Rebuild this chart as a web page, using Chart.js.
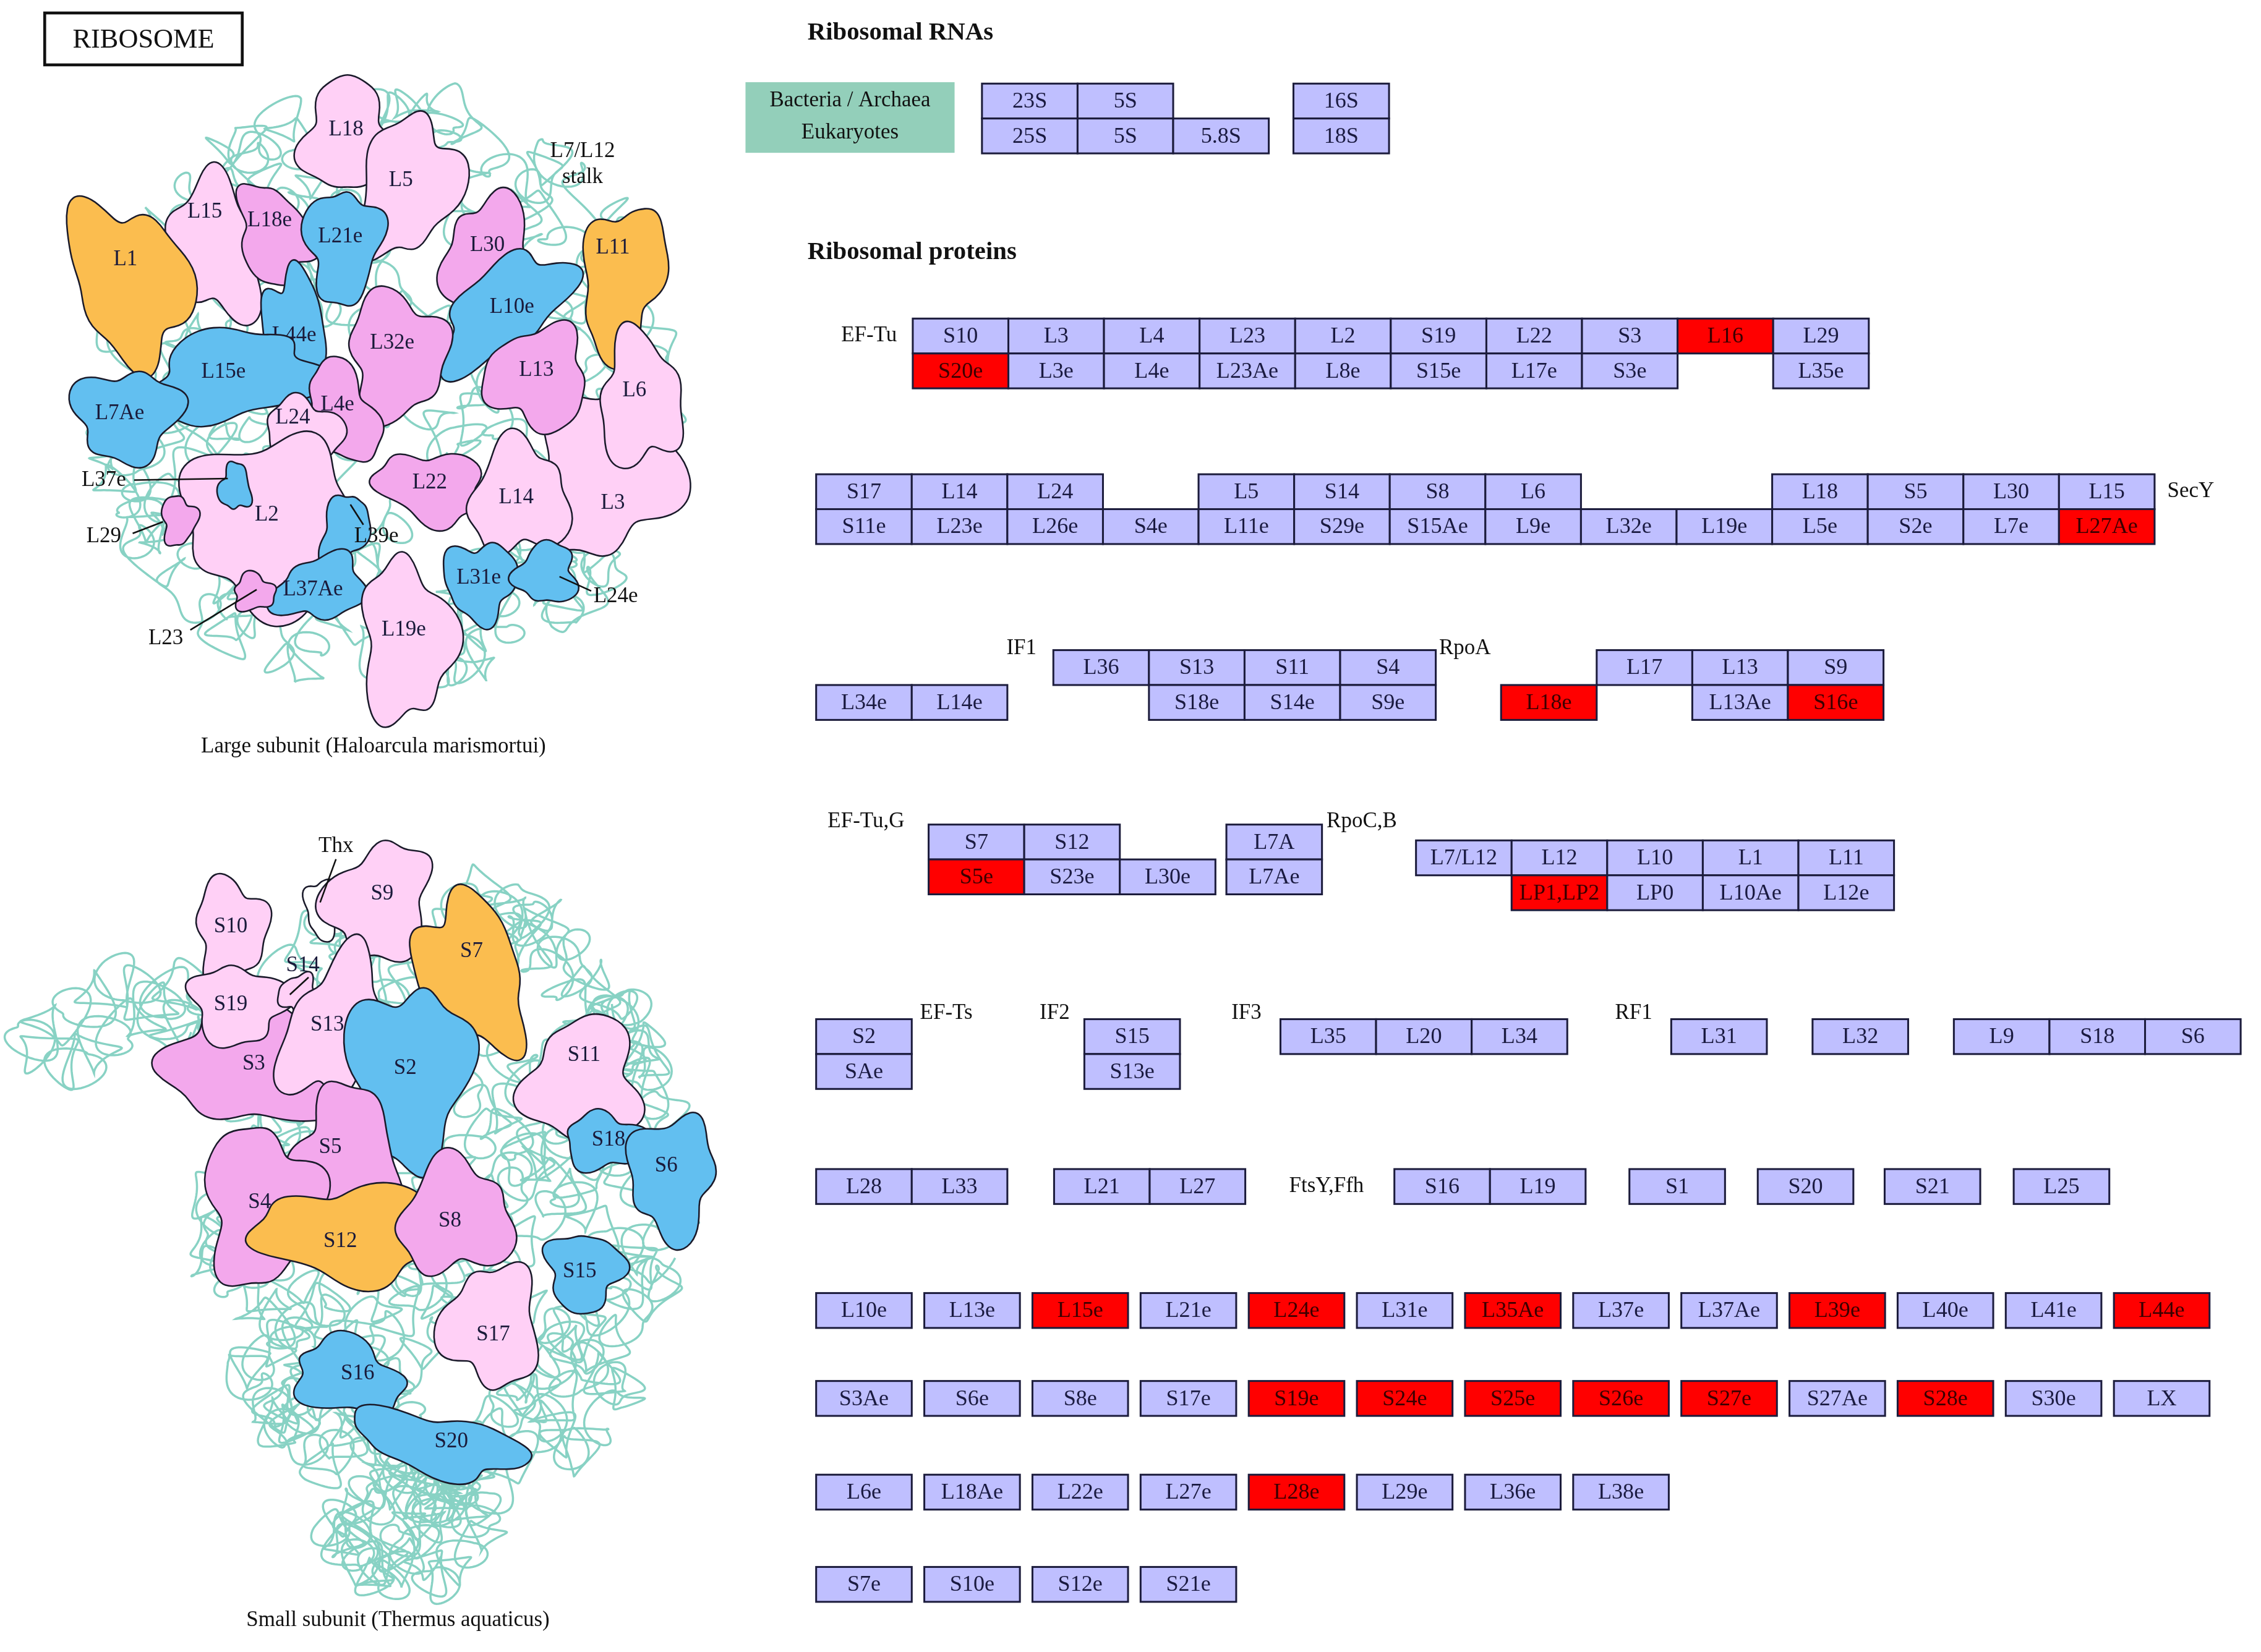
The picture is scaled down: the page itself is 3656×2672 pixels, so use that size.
<!DOCTYPE html>
<html><head><meta charset="utf-8">
<script src="https://cdn.jsdelivr.net/npm/chart.js@4.4.1/dist/chart.umd.min.js"></script>
<style>html,body{margin:0;padding:0;background:#fff;}#wrap{width:3656px;height:2672px;position:relative;}</style>
</head><body><div id="wrap"><canvas id="c"></canvas></div>
<script>
// ---------------- DATA ----------------
const rnaProkA = ['23S','5S'];
const rnaEukA  = ['25S','5S','5.8S'];
const rnaProkB = ['16S'];
const rnaEukB  = ['18S'];
const efTuTop  = ['S10','L3','L4','L23','L2','S19','L22','S3','L16','L29'];
const efTuBot  = ['S20e','L3e','L4e','L23Ae','L8e','S15e','L17e','S3e','','L35e'];
const secYTop  = ['S17','L14','L24','','L5','S14','S8','L6','','','L18','S5','L30','L15'];
const secYBot  = ['S11e','L23e','L26e','S4e','L11e','S29e','S15Ae','L9e','L32e','L19e','L5e','S2e','L7e','L27Ae'];
const if1LeftBot = ['L34e','L14e'];
const if1Top   = ['L36','S13','S11','S4'];
const if1Bot   = ['','S18e','S14e','S9e'];
const rpoATop  = ['','L17','L13','S9'];
const rpoABot  = ['L18e','','L13Ae','S16e'];
const efGTop   = ['S7','S12'];
const efGBot   = ['S5e','S23e','L30e'];
const l7aTop   = ['L7A'];
const l7aBot   = ['L7Ae'];
const rpoCTop  = ['L7/L12','L12','L10','L1','L11'];
const rpoCBot  = ['','LP1,LP2','LP0','L10Ae','L12e'];
const efTsTop  = ['S2'];  const efTsBot = ['SAe'];
const if2Top   = ['S15']; const if2Bot  = ['S13e'];
const if3Row   = ['L35','L20','L34'];
const rf1Row   = ['L31'];
const l32Row   = ['L32'];
const l9Row    = ['L9','S18','S6'];
const l28Row   = ['L28','L33'];
const l21Row   = ['L21','L27'];
const ftsRow   = ['S16','L19'];
const s1Row = ['S1']; const s20Row = ['S20']; const s21Row = ['S21']; const l25Row = ['L25'];
const eukRow1  = ['L10e','L13e','L15e','L21e','L24e','L31e','L35Ae','L37e','L37Ae','L39e','L40e','L41e','L44e'];
const eukRow2  = ['S3Ae','S6e','S8e','S17e','S19e','S24e','S25e','S26e','S27e','S27Ae','S28e','S30e','LX'];
const eukRow3  = ['L6e','L18Ae','L22e','L27e','L28e','L29e','L36e','L38e'];
const eukRow4  = ['S7e','S10e','S12e','S21e'];
const highlighted = ['L16','S20e','L27Ae','L18e','S16e','S5e','LP1,LP2','L15e','L24e','L35Ae','L39e','L44e',
  'S19e','S24e','S25e','S26e','S27e','S28e','L28e'];
const factorNames = ['EF-Tu','SecY','IF1','RpoA','EF-Tu,G','RpoC,B','EF-Ts','IF2','IF3','RF1','FtsY,Ffh'];

// illustration: protein names and colour classes (labels drawn outside for some)
const largeNames  = ['L18','L5','L15','L18e','L21e','L30','L1','L11','L10e','L32e','L44e','L15e','L3','L13','L6','L7Ae','L4e','L24','L2','L37e','L29','L22','L14','L39e','L37Ae','L23','L31e','L24e','L19e'];
const largeClass  = ['lp','lp','lp','mp','bl','mp','or','or','bl','mp','bl','bl','lp','mp','lp','bl','mp','lp','lp','bl','mp','mp','lp','bl','bl','mp','bl','bl','lp'];
const outsideLabels = ['L37e','L29','L23','L24e','L39e','Thx'];
const smallNames  = ['Thx','S9','S10','S7','S3','S19','S14','S13','S2','S11','S18','S6','S5','S4','S12','S8','S15','S17','S16','S20'];
const smallClass  = ['wh','lp','lp','or','mp','lp','lp','lp','bl','lp','bl','bl','mp','mp','or','mp','bl','lp','bl','bl'];

// ---------------- LAYOUT (display units, 1568 x 1146) ----------------
const W = 66.3, H = 24.2;
const groupLayout = [
  {top:rnaProkA, bot:rnaEukA, x:681, y:58, gap:0},
  {top:rnaProkB, bot:rnaEukB, x:897, y:58, gap:0},
  {top:efTuTop, bot:efTuBot, x:633, y:221, gap:0},
  {top:secYTop, bot:secYBot, x:566, y:329, gap:0},
  {top:[], bot:if1LeftBot, x:566, y:451, gap:0},
  {top:if1Top, bot:if1Bot, x:730.5, y:451, gap:0},
  {top:rpoATop, bot:rpoABot, x:1041, y:451, gap:0},
  {top:efGTop, bot:efGBot, x:644, y:572, gap:0},
  {top:l7aTop, bot:l7aBot, x:850.5, y:572, gap:0},
  {top:rpoCTop, bot:rpoCBot, x:982, y:583, gap:0},
  {top:efTsTop, bot:efTsBot, x:566, y:707, gap:0},
  {top:if2Top, bot:if2Bot, x:752, y:707, gap:0},
  {top:if3Row, bot:[], x:888, y:707, gap:0},
  {top:rf1Row, bot:[], x:1159, y:707, gap:0},
  {top:l32Row, bot:[], x:1257, y:707, gap:0},
  {top:l9Row, bot:[], x:1355, y:707, gap:0},
  {top:l28Row, bot:[], x:566, y:811, gap:0},
  {top:l21Row, bot:[], x:731, y:811, gap:0},
  {top:ftsRow, bot:[], x:967, y:811, gap:0},
  {top:s1Row, bot:[], x:1130, y:811, gap:0},
  {top:s20Row, bot:[], x:1219, y:811, gap:0},
  {top:s21Row, bot:[], x:1307, y:811, gap:0},
  {top:l25Row, bot:[], x:1396.5, y:811, gap:0},
  {top:eukRow1, bot:[], x:566, y:897, gap:8.7},
  {top:eukRow2, bot:[], x:566, y:958, gap:8.7},
  {top:eukRow3, bot:[], x:566, y:1023, gap:8.7},
  {top:eukRow4, bot:[], x:566, y:1087, gap:8.7}
];
const factorPos = [[622,233,'right'],[1503,341,'left'],[698,450,'left'],[998,450,'left'],[574,570,'left'],
  [920,570,'left'],[638,703,'left'],[721,703,'left'],[854,703,'left'],[1120,703,'left'],[894,823,'left']];

// blob geometry: [cx, cy, rx, ry, rotDeg, labelX, labelY]
const largeGeom = [
  [241,95,31,39,0,240,90],[283,130,34,49,20,278,125],[150,172,29,51,-15,142,147],[190,163,24,35,-20,187,153],
  [238,170,26,39,0,236,164],[340,182,31,45,0,338,170],[90,195,39,57,-25,87,180],[432,195,27,55,10,425,172],
  [350,215,55,27,-40,355,213],[275,247,33,45,0,272,238],[206,235,21,49,-10,204,233],[160,262,61,31,-10,155,258],
  [418,330,50,56,25,425,349],[373,262,35,35,0,372,257],[444,278,28,46,0,440,271],[88,288,37,31,0,83,287],
  [237,287,23,37,-20,234,281],[210,300,27,23,0,203,290],[185,362,55,61,0,185,357],[163,338,11,16,0,163,338],
  [124,361,12,17,0,124,361],[299,338,37,24,10,298,335],[360,346,34,39,0,358,345],[238,370,15,29,20,238,368],
  [222,408,33,21,-15,217,409],[176,411,14,13,0,176,411],[333,403,25,27,0,332,401],[379,398,21,21,0,379,398],
  [282,445,32,55,0,280,437]
];
const smallGeom = [
  [224,630,12,21,0,0,0],[263,626,35,41,25,265,620],[160,646,24,37,0,160,643],[327,675,35,55,-20,327,660],
  [175,737,59,44,10,176,738],[165,697,33,27,0,160,697],[207,690,13,14,0,210,670],[230,712,29,55,25,227,711],
  [284,745,42,61,0,281,741],[405,752,39,45,0,405,732],[420,792,29,19,0,422,791],[466,816,29,43,0,462,809],
  [240,805,37,49,0,229,796],[181,836,39,54,0,180,834],[241,856,61,33,0,236,861],[316,845,39,39,0,312,847],
  [405,882,26,27,0,402,882],[341,920,34,41,0,342,926],[241,955,37,26,15,248,953],[305,1002,61,20,12,313,1000]
];
const classFill = {lp:'#ffd0f6', mp:'#f3a8ec', bl:'#62bff0', or:'#fbbd4f', wh:'#ffffff'};

// ---------------- BUILD POINTS ----------------
const hlSet = new Set(highlighted);
const boxPoints = [];
groupLayout.forEach(g => {
  const pitch = W + g.gap;
  g.top.forEach((lab,i) => { if (lab) boxPoints.push({x:g.x+i*pitch+W/2, y:g.y+H/2, label:lab, hl:hlSet.has(lab)}); });
  g.bot.forEach((lab,i) => { if (lab) boxPoints.push({x:g.x+i*pitch+W/2, y:g.y+H*1.5, label:lab, hl:hlSet.has(lab)}); });
});

const SERIF = '"Liberation Serif","DejaVu Serif",serif';

function smoothClosed(ctx, pts) {
  const n = pts.length;
  ctx.beginPath();
  let mx = (pts[n-1][0]+pts[0][0])/2, my = (pts[n-1][1]+pts[0][1])/2;
  ctx.moveTo(mx,my);
  for (let i=0;i<n;i++) {
    const p = pts[i], q = pts[(i+1)%n];
    ctx.quadraticCurveTo(p[0],p[1],(p[0]+q[0])/2,(p[1]+q[1])/2);
  }
  ctx.closePath();
}

const tri = u => (2/Math.PI)*Math.asin(Math.sin(u));
function drawTangle(ctx, sx, sy, cx, cy, rx, ry, T, a1, b1, p1, p2, r, k) {
  ctx.save();
  ctx.strokeStyle = '#88d2c4';
  ctx.lineWidth = 1.5*k;
  ctx.beginPath();
  let first = true;
  for (let t=0; t<T; t+=0.1) {
    const u = tri(t*a1+p1), v = tri(t*b1+p2);
    const du = u*Math.sqrt(1 - v*v/2), dv = v*Math.sqrt(1 - u*u/2);
    const x = cx + rx*du + r*Math.cos(t) + 0.35*r*Math.cos(t*2.37+1);
    const y = cy + ry*dv + r*Math.sin(t) + 0.35*r*Math.sin(t*1.91);
    if (first) { ctx.moveTo(sx(x),sy(y)); first=false; } else ctx.lineTo(sx(x),sy(y));
  }
  ctx.stroke();
  ctx.restore();
}

function drawBlobs(ctx, sx, sy, names, classes, geom, k, seed) {
  names.forEach((nm,idx) => {
    const [cx,cy,rx,ry,rot,lx,ly] = geom[idx];
    const ph = (idx+seed)*2.3;
    const rr = rot*Math.PI/180;
    const pts = [];
    const n = 40;
    for (let i=0;i<n;i++) {
      const th = 2*Math.PI*i/n;
      const f = 1 + 0.16*Math.sin(3*th+ph) + 0.1*Math.sin(5*th+1.7*ph) + 0.05*Math.sin(7*th+0.5*ph);
      const x0 = rx*f*Math.cos(th), y0 = ry*f*Math.sin(th);
      const x = cx + x0*Math.cos(rr) - y0*Math.sin(rr);
      const y = cy + x0*Math.sin(rr) + y0*Math.cos(rr);
      pts.push([sx(x), sy(y)]);
    }
    smoothClosed(ctx, pts);
    ctx.fillStyle = classFill[classes[idx]];
    ctx.fill();
    ctx.strokeStyle = '#1a1a2a';
    ctx.lineWidth = 1.1*k;
    ctx.stroke();
    if (!outsideLabels.includes(nm)) {
      ctx.fillStyle = '#1a1a3a';
      ctx.font = `${15*k}px ${SERIF}`;
      ctx.textAlign = 'center'; ctx.textBaseline = 'middle';
      ctx.fillText(nm, sx(lx), sy(ly));
    }
  });
}

const diagramPlugin = {
  id: 'diagram',
  beforeDatasetsDraw(chart) {
    const ctx = chart.ctx, xs = chart.scales.x, ys = chart.scales.y;
    const sx = v => xs.getPixelForValue(v), sy = v => ys.getPixelForValue(v);
    const k = (xs.getPixelForValue(100) - xs.getPixelForValue(0))/100;
    ctx.save();
    // RIBOSOME title box
    ctx.strokeStyle = '#111'; ctx.lineWidth = 2*k;
    ctx.strokeRect(sx(31), sy(9), sx(168)-sx(31), sy(45)-sy(9));
    ctx.fillStyle = '#111'; ctx.font = `${19*k}px ${SERIF}`;
    ctx.textAlign = 'center'; ctx.textBaseline = 'middle';
    ctx.fillText('RIBOSOME', sx(99.5), sy(28));

    // RNA tangles
    drawTangle(ctx, sx, sy, 265, 272, 200, 205, 1400, 0.0213, 0.0269, 0.3, 1.1, 12, k);
    drawTangle(ctx, sx, sy, 305, 830, 165, 220, 1900, 0.0231, 0.0187, 1.7, 0.4, 12, k);
    drawTangle(ctx, sx, sy, 285, 1050, 55, 52, 300, 0.041, 0.053, 0.2, 0.9, 12, k);
    drawTangle(ctx, sx, sy, 90, 712, 78, 32, 150, 0.052, 0.083, 0.5, 0.2, 15, k);

    // blobs
    drawBlobs(ctx, sx, sy, largeNames, largeClass, largeGeom, k, 0);
    drawBlobs(ctx, sx, sy, smallNames, smallClass, smallGeom, k, 7);

    // leader lines + labels
    ctx.strokeStyle = '#111'; ctx.lineWidth = 1.1*k;
    const leaders = [[93,333,158,332],[92,370,113,362],[132,437,178,409],[410,410,388,400],[243,350,252,364],[233,596,222,626],[214,678,201,690]];
    leaders.forEach(l => { ctx.beginPath(); ctx.moveTo(sx(l[0]),sy(l[1])); ctx.lineTo(sx(l[2]),sy(l[3])); ctx.stroke(); });
    ctx.fillStyle = '#111'; ctx.font = `${15*k}px ${SERIF}`;
    ctx.textAlign = 'center'; ctx.textBaseline = 'middle';
    [['L37e',72,333],['L29',72,372],['L23',115,443],['L24e',427,414],['L39e',261,372],['Thx',233,587],
     ['L7/L12',404,105],['stalk',404,123]].forEach(t => ctx.fillText(t[0], sx(t[1]), sy(t[2])));
    ctx.fillText('Large subunit (Haloarcula marismortui)', sx(259), sy(518));
    ctx.fillText('Small subunit (Thermus aquaticus)', sx(276), sy(1124));

    // section titles
    ctx.textAlign = 'left';
    ctx.font = `bold ${17.5*k}px ${SERIF}`;
    ctx.fillText('Ribosomal RNAs', sx(560), sy(23));
    ctx.fillText('Ribosomal proteins', sx(560), sy(175));

    // Bacteria / Eukaryotes legend
    ctx.fillStyle = '#93cfba';
    ctx.fillRect(sx(517), sy(57), sx(662)-sx(517), sy(106)-sy(57));
    ctx.fillStyle = '#111'; ctx.textAlign = 'center';
    ctx.font = `${15*k}px ${SERIF}`;
    ctx.fillText('Bacteria / Archaea', sx(589.5), sy(70));
    ctx.fillText('Eukaryotes', sx(589.5), sy(92));

    // factor labels
    factorNames.forEach((nm,i) => {
      const p = factorPos[i];
      ctx.textAlign = p[2];
      ctx.fillText(nm, sx(p[0]), sy(p[1]));
    });
    ctx.restore();
  },
  afterDatasetsDraw(chart) {
    const ctx = chart.ctx, xs = chart.scales.x, ys = chart.scales.y;
    const sx = v => xs.getPixelForValue(v), sy = v => ys.getPixelForValue(v);
    const k = (xs.getPixelForValue(100) - xs.getPixelForValue(0))/100;
    ctx.save();
    chart.data.datasets[0].data.forEach(p => {
      const x0 = sx(p.x - W/2), x1 = sx(p.x + W/2), y0 = sy(p.y - H/2), y1 = sy(p.y + H/2);
      ctx.fillStyle = p.hl ? '#ff0000' : '#bfbfff';
      ctx.fillRect(x0, y0, x1-x0, y1-y0);
      ctx.strokeStyle = '#1c1c3c';
      ctx.lineWidth = 1.3*k;
      ctx.strokeRect(x0, y0, x1-x0, y1-y0);
      ctx.fillStyle = p.hl ? '#3a0000' : '#1a1a40';
      ctx.font = `${15.5*k}px ${SERIF}`;
      ctx.textAlign = 'center'; ctx.textBaseline = 'middle';
      ctx.fillText(p.label, (x0+x1)/2, (y0+y1)/2 + 0.5*k);
    });
    ctx.restore();
  }
};

new Chart(document.getElementById('c'), {
  type: 'scatter',
  data: { datasets: [{ label: 'Ribosomal proteins', data: boxPoints, pointRadius: 0, pointHoverRadius: 0, showLine: false }] },
  options: {
    responsive: true, maintainAspectRatio: false, animation: false, devicePixelRatio: 1,
    layout: { padding: 0 },
    plugins: { legend: { display: false }, tooltip: { enabled: false } },
    scales: {
      x: { type: 'linear', min: 0, max: 1568, display: false },
      y: { type: 'linear', min: 0, max: 1146, reverse: true, display: false }
    }
  },
  plugins: [diagramPlugin]
});
</script></body></html>
